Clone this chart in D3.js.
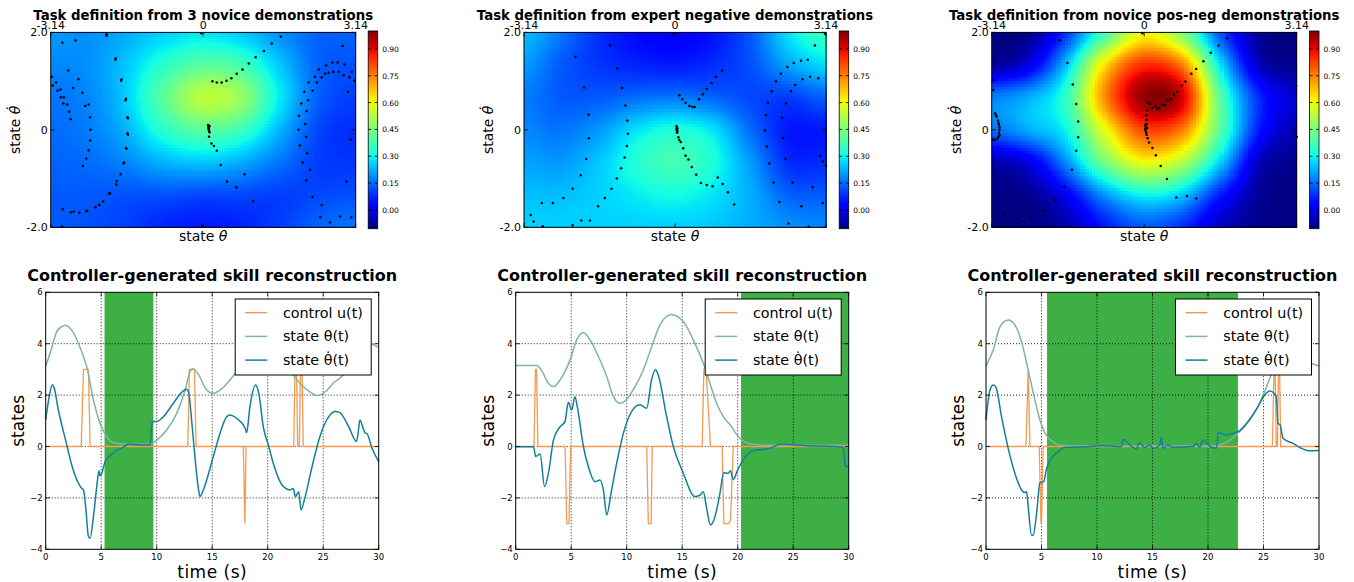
<!DOCTYPE html>
<meta charset="utf-8">
<style>
body { margin: 0; background: #fff; }
svg { font-family: "DejaVu Sans", sans-serif; }
.title { font-weight: bold; text-anchor: middle; }
.grid line { stroke: #000; stroke-dasharray: 1,2; stroke-width: 0.9; }
.frame { fill: none; stroke: #000; stroke-width: 1; }
.tick { stroke: #000; stroke-width: 0.8; }
</style>
<svg width="1354" height="582"></svg>

<script src="https://d3js.org/d3.v7.min.js"></script>
<script>

// ---- data ----
var thetaCols = [-3.14, -2.355, -1.57, -0.785, 0, 0.785, 1.57, 2.355, 3.14];
var dthetaRows = [2, 1.333, 0.667, 0, -0.667, -1.333, -2];

// cost maps (rows top to bottom)
var fieldNovice = [
  [0.20,0.19,0.22,0.26,0.28,0.25,0.19,0.14,0.14],
  [0.18,0.19,0.25,0.34,0.40,0.37,0.25,0.14,0.12],
  [0.16,0.18,0.26,0.41,0.53,0.48,0.29,0.14,0.10],
  [0.15,0.17,0.23,0.34,0.40,0.36,0.23,0.11,0.08],
  [0.14,0.15,0.18,0.23,0.25,0.22,0.16,0.10,0.09],
  [0.13,0.13,0.12,0.12,0.11,0.11,0.10,0.11,0.12],
  [0.13,0.12,0.10,0.07,0.06,0.07,0.10,0.14,0.16]
];
var fieldExpertNeg = [
  [0.24,0.16,0.08,0.04,0.03,0.05,0.13,0.28,0.36],
  [0.20,0.13,0.09,0.07,0.06,0.08,0.12,0.21,0.27],
  [0.17,0.13,0.13,0.15,0.16,0.14,0.11,0.10,0.14],
  [0.18,0.16,0.20,0.28,0.32,0.28,0.15,0.06,0.06],
  [0.21,0.20,0.25,0.33,0.37,0.32,0.20,0.08,0.08],
  [0.24,0.24,0.26,0.29,0.31,0.28,0.22,0.14,0.13],
  [0.26,0.26,0.26,0.26,0.26,0.25,0.22,0.19,0.18]
];
var fieldPosNeg = [
  [-0.10,-0.09,0.10,0.38,0.60,0.45,0.12,-0.08,-0.10],
  [-0.08,0.00,0.26,0.65,0.85,0.75,0.28,-0.04,-0.09],
  [0.17,0.22,0.36,0.75,0.98,0.92,0.40,0.08,-0.03],
  [0.15,0.22,0.31,0.60,0.82,0.75,0.40,0.06,-0.06],
  [-0.06,0.00,0.20,0.45,0.60,0.52,0.26,-0.04,-0.09],
  [-0.10,-0.09,0.02,0.20,0.30,0.25,0.06,-0.08,-0.10],
  [-0.10,-0.10,-0.06,0.06,0.13,0.08,-0.04,-0.09,-0.10]
];

var dotsNovice = [
  [-3.12,1.09],[-3.10,0.91],[-3.03,0.97],[-3.00,0.80],[-2.94,0.83],[-2.93,0.67],[-2.87,0.67],[-2.88,0.54],[-2.80,0.52],[-2.76,0.37],[-2.73,0.22],
  [-2.90,1.79],[-2.63,1.84],[-2.78,1.22],[-2.68,0.86],[-2.57,1.04],[-2.49,0.76],[-2.43,0.49],[-2.36,0.52],[-2.33,0.26],[-2.32,0.00],[-2.33,-0.22],[-2.36,-0.42],[-2.41,-0.59],[-2.48,-0.74],
  [-1.99,1.96],[-1.99,1.93],[-1.80,1.47],[-1.81,1.44],[-1.69,1.01],[-1.68,1.04],[-1.60,0.61],[-1.59,0.64],[-1.56,0.26],[-1.55,0.24],[-1.55,-0.10],[-1.56,-0.07],[-1.58,-0.39],[-1.59,-0.37],[-1.63,-0.67],[-1.64,-0.69],[-1.70,-0.91],[-1.78,-1.05],[-1.79,-1.12],[-1.92,-1.30],[-1.94,-1.31],[-2.06,-1.47],[-2.14,-1.54],[-2.22,-1.59],[-2.39,-1.66],[-2.41,-1.67],[-2.55,-1.70],[-2.67,-1.68],[-2.73,-1.69],[-2.89,-1.63],[-2.91,-1.99],
  [0.10,0.10],[0.11,0.07],[0.12,0.04],[0.11,0.01],[0.12,-0.02],[0.13,-0.05],[0.11,0.05],[0.13,0.08],[0.12,-0.14],[0.17,-0.28],[0.22,-0.33],[0.28,-0.43],[0.36,-0.72],[0.49,-1.06],[0.68,-1.18],[0.85,-0.91],[1.03,-1.47],
  [0.19,1.00],[0.28,0.97],[0.38,0.97],[0.48,1.01],[0.58,1.06],[0.69,1.15],[0.81,1.24],[0.94,1.36],[1.08,1.49],[1.25,1.62],[1.41,1.77],[1.60,1.91],[-0.04,1.98],[-0.02,-1.97],
  [1.96,0.00],[1.97,0.29],[1.99,-0.32],[2.02,0.54],[2.05,-0.67],[2.08,0.78],[2.10,0.12],[2.12,-0.14],[2.12,-1.04],[2.13,0.38],[2.14,-0.48],[2.16,0.61],[2.17,0.97],[2.20,-0.82],[2.25,0.80],[2.25,-1.38],[2.30,1.09],[2.34,0.97],[2.38,1.24],[2.44,1.08],[2.41,-1.79],[2.44,-1.54],[2.51,1.15],[2.53,1.32],[2.58,1.17],[2.66,1.38],[2.68,1.19],[2.77,1.38],[2.79,1.19],[2.82,-1.78],[2.87,1.72],[2.89,1.12],[2.91,1.34],[2.95,-1.06],[2.98,0.78],[3.01,1.08],[3.03,-0.20],[3.05,-1.80],[3.06,1.19],[3.11,1.01],[2.61,-1.90]
];
var dotsExpertNeg = [
  [-3.00,-1.75],[-2.94,-1.88],[-2.75,-1.98],[-2.77,-1.50],[-2.54,-1.50],[-2.32,-1.40],[-2.13,-1.21],[-2.13,-1.96],[-2.07,1.50],[-1.96,-0.93],[-1.95,-1.86],[-1.89,0.87],[-1.85,-0.60],[-1.80,0.31],[-1.79,-0.17],[-1.77,-1.86],[-1.60,-1.57],[-1.46,-1.40],[-1.35,1.73],[-1.32,-1.21],[-1.20,1.26],[-1.21,-1.00],[-1.12,-0.79],[-1.10,0.86],[-1.05,-0.57],[-1.03,0.50],[-1.00,-0.33],[-0.99,0.19],[-0.98,-0.08],
  [0.03,0.08],[0.04,0.05],[0.03,0.02],[0.04,-0.01],[0.05,-0.04],[0.04,-0.06],[0.05,0.03],[0.07,-0.15],[0.09,-0.21],[0.12,-0.25],[0.17,-0.38],[0.22,-0.53],[0.28,-0.61],[0.35,-0.76],[0.44,-0.92],[0.54,-1.09],[0.66,-1.13],[0.78,-1.16],[0.89,-0.98],[0.99,-1.11],[1.10,-1.28],[1.23,-1.53],
  [0.09,0.71],[0.15,0.63],[0.22,0.55],[0.30,0.49],[0.36,0.47],[0.41,0.47],[0.50,0.63],[0.58,0.73],[0.66,0.84],[0.76,0.96],[0.85,1.09],[0.98,1.22],[-0.03,1.98],
  [1.87,-0.01],[1.89,0.30],[1.91,-0.34],[1.93,0.56],[1.96,-0.69],[2.01,0.79],[2.05,-1.08],[2.10,0.99],[2.17,-1.48],[2.20,1.15],[2.23,0.25],[2.25,-0.17],[2.30,-0.60],[2.31,0.54],[2.34,1.29],[2.36,-1.92],[2.41,0.79],[2.44,-1.08],[2.47,1.37],[2.50,0.92],[2.62,1.42],[2.65,1.04],[2.63,-1.57],[2.76,1.44],[2.81,1.09],[2.78,-1.99],[2.86,-1.18],[2.91,1.73],[2.98,1.06],[3.02,-0.53],[3.07,-0.65],[3.07,-1.50],[3.12,1.97],[3.14,-0.73]
];
var dotsPosNeg = [
  [-3.07,0.34],[-3.04,0.27],[-3.01,0.19],[-2.99,0.10],[-2.98,0.00],[-2.98,-0.11],[-3.02,-0.17],[-3.07,-0.21],[-3.12,-0.20],[-3.05,0.30],[-3.00,0.14],[-2.98,0.05],[-2.99,-0.06],[-3.00,-0.14],[-3.10,-0.21],
  [-3.12,1.02],[-3.11,0.82],[-2.91,1.79],[-2.89,-1.74],[-2.61,-1.82],[-2.34,-1.80],[-2.07,-1.66],[-1.84,-1.45],[-1.64,-1.17],[-1.49,-0.82],[-1.40,-0.43],[-1.36,-0.15],[-1.36,0.17],[-1.40,0.53],[-1.47,0.93],[-1.58,1.37],[-1.74,1.84],
  [0.02,0.10],[0.03,0.06],[0.02,0.02],[0.03,-0.02],[0.04,-0.06],[0.05,-0.10],[0.06,0.04],[0.05,0.12],[0.05,0.20],[0.04,0.30],[0.06,0.39],[0.07,0.56],[0.12,0.53],[0.17,0.45],[0.24,0.48],[0.27,0.43],[0.31,0.45],[0.37,0.51],[0.43,0.51],[0.48,0.60],[0.55,0.63],[0.61,0.72],[0.68,0.78],[0.77,0.91],[0.85,0.99],[0.97,1.15],[1.07,1.25],[1.22,1.41],[1.37,1.58],[1.53,1.73],[1.71,1.88],
  [0.07,-0.17],[0.10,-0.26],[0.17,-0.37],[0.24,-0.52],[0.34,-0.74],[0.47,-1.01],[0.66,-1.39],[0.88,-1.36],[1.07,-1.41],
  [3.13,0.90],[3.14,-0.14],[-0.04,1.98]
];

var cbTicks = [0, 0.15, 0.30, 0.45, 0.60, 0.75, 0.90];
var cbRange = [-0.105, 1.0];
var thetaTicks = [-3.14, 0, 3.14], thetaTickLabels = ["-3.14", "0", "3.14"];
var dthetaTicks = [2, 0, -2], dthetaTickLabels = ["2.0", "0", "-2.0"];

var timeTicks = [0, 5, 10, 15, 20, 25, 30];
var stateTicks = [-4, -2, 0, 2, 4, 6];

// skill reconstructions [t, value]
var uA = [[0,0],[3.2,0],[3.4,3],[3.85,3],[4.0,0],[12.8,0],[12.95,3],[13.4,3],[13.55,0],[17.8,0],[17.95,-3],[18.05,0],[22.35,0],[22.45,3],[22.6,3],[22.7,0],[22.85,0],[22.95,3],[23.1,3],[23.2,0],[30,0]];
var thA = [[0,3.13],[0.4,3.63],[1.0,4.47],[1.44,4.66],[1.74,4.72],[2.34,4.53],[2.94,4.02],[3.4,3.5],[3.7,3.1],[4.3,1.81],[4.9,0.9],[5.5,0.38],[6.1,0.15],[7.3,0.1],[9.4,0.1],[10.0,0.25],[10.9,0.64],[11.8,1.29],[12.56,2.2],[13.0,2.91],[13.25,3.03],[13.8,2.78],[14.4,2.26],[15.1,2.07],[15.9,2.26],[16.6,2.59],[17.1,2.85],[18,3.3],[19,3.7],[20,3.8],[21,3.5],[22.3,2.78],[22.9,2.46],[23.8,2.13],[24.4,1.98],[25.2,2.13],[25.9,2.46],[26.8,2.78],[27.5,3.3],[28.3,3.8],[29.3,3.98],[30,3.86]];
var dthA = [[0,1.03],[0.3,1.9],[0.6,2.4],[0.75,2.3],[1.14,1.42],[1.9,0.06],[2.3,-0.65],[2.95,-1.43],[3.25,-1.63],[3.4,-1.69],[3.6,-2.34],[3.85,-3.5],[4.0,-3.57],[4.3,-2.73],[4.6,-1.56],[4.8,-0.94],[4.9,-1.15],[5.05,-1.04],[5.35,-0.59],[5.65,-0.42],[6.25,-0.2],[7.0,-0.03],[7.45,0.1],[8.8,0.06],[9.4,0.06],[9.6,0.97],[10.0,0.97],[10.6,1.16],[11.5,1.68],[12.3,2.13],[12.7,2.23],[12.86,2.13],[13.2,0.77],[13.5,-0.65],[13.8,-1.76],[13.9,-1.95],[14.2,-1.69],[15.1,-0.39],[15.7,0.51],[16.3,1.16],[16.6,1.23],[17.2,1.1],[17.97,0.71],[18.1,0.54],[18.4,1.55],[18.9,2.39],[19.2,2.07],[19.6,0.77],[20.1,0],[20.5,-0.65],[21.4,-1.56],[22.0,-1.69],[22.3,-1.63],[22.5,-1.95],[22.8,-1.76],[23.0,-2.47],[23.3,-2.08],[24.0,-0.78],[24.7,0.38],[25.5,1.16],[26.1,1.36],[26.5,1.32],[27.3,0.77],[28.0,0.19],[28.2,0.71],[28.3,1.03],[28.6,0.71],[28.8,0.52],[28.9,0.52],[29.4,-0.07],[30,-0.59]];
var spanA = [5.3, 9.7];

var uB = [[0,0],[1.65,0],[1.78,3],[1.88,3],[2.0,0],[4.45,0],[4.6,-3],[4.8,-3],[4.95,0],[11.8,0],[11.95,-3],[12.2,-3],[12.3,0],[16.8,0],[16.95,3],[17.15,3],[17.55,0],[18.6,0],[18.75,-3],[19.2,-3],[19.35,-2.85],[19.6,0],[30,0]];
var thB = [[0,3.15],[1.9,3.15],[2.3,2.98],[2.94,2.46],[3.4,2.33],[4.0,2.59],[4.9,3.37],[5.5,4.15],[6.1,4.44],[6.7,4.15],[7.45,3.5],[8.2,2.72],[8.8,1.94],[9.4,1.68],[10.0,1.84],[10.75,2.33],[11.5,2.98],[12.2,3.82],[13.0,4.73],[14.0,5.14],[15.1,4.86],[16.0,4.15],[16.9,3.24],[17.5,2.46],[18.1,1.68],[18.7,1.16],[19.45,0.77],[20.0,0.41],[20.6,0.19],[21.4,0.09],[22.9,0.05],[30,0.05]];
var dthB = [[0,-0.01],[1.6,-0.01],[1.8,-0.39],[2.2,-0.29],[2.6,-1.56],[3.0,-0.91],[3.4,0.25],[4.0,0.77],[4.44,0.97],[4.74,1.72],[5.04,1.42],[5.34,1.94],[5.55,1.55],[6.1,0],[6.54,-0.78],[7.14,-1.37],[7.6,-1.3],[7.9,-1.69],[8.2,-2.66],[8.64,-1.69],[9.1,-0.65],[9.7,0.51],[10.44,1.36],[11.2,1.62],[11.8,1.49],[12.24,2.59],[12.6,3.0],[12.84,2.78],[13.6,1.16],[14.2,0],[15.1,-1.04],[16.14,-1.95],[16.6,-1.89],[16.9,-1.76],[17.2,-2.4],[17.55,-3.05],[17.95,-2.73],[18.4,-1.82],[18.75,-1.02],[19.14,-1.04],[19.35,-0.94],[19.6,-1.28],[20.0,-0.91],[20.5,-0.52],[21.4,-0.16],[22.9,-0.07],[23.9,0.09],[25.9,0.04],[29.5,-0.03],[29.7,-0.78],[30,-0.78]];
var spanB = [20.3, 30];

var uC = [[0,0],[3.6,0],[3.8,3],[3.96,0],[4.8,0],[4.95,-3],[5.0,-3],[5.15,0],[25.8,0],[25.95,3],[26.05,3],[26.15,0],[26.25,0],[26.35,3],[26.45,3],[26.55,0],[30,0]];
var thC = [[0,3.13],[0.66,3.76],[1.26,4.66],[2.0,4.92],[2.6,4.73],[3.2,4.08],[3.8,2.98],[4.4,1.81],[4.86,1.03],[5.3,0.54],[5.9,0.22],[6.66,0.06],[7.86,0.02],[20.5,0.02],[21.06,0.06],[21.96,0.25],[22.86,0.58],[23.76,1.03],[24.5,1.55],[25.1,2.13],[25.7,2.78],[26.4,3.2],[27.5,3.45],[28.5,3.4],[29.3,3.24],[30,3.13]];
var dthC = [[0,1.03],[0.36,2.2],[0.66,2.39],[0.9,2.3],[1.4,1.16],[2.0,-0.07],[2.6,-1.04],[3.2,-1.69],[3.5,-1.79],[3.66,-1.76],[3.8,-2.34],[4.1,-3.45],[4.26,-3.44],[4.56,-2.6],[4.86,-1.41],[5.2,-1.37],[5.46,-0.85],[5.9,-0.46],[6.5,-0.2],[7.1,-0.03],[9.4,0],[10.4,0.04],[12.2,0],[12.36,0.28],[12.96,0.06],[13.56,-0.1],[13.8,0.15],[14.3,-0.04],[14.76,0.06],[15.06,-0.07],[15.66,0.06],[15.78,0.36],[15.96,-0.07],[16.35,0.06],[16.86,-0.03],[18.66,0],[18.96,0.12],[19.26,-0.03],[19.56,0.25],[19.86,0.15],[20.3,-0.03],[20.76,-0.07],[20.94,0.54],[21.36,0.49],[21.66,0.45],[22.26,0.51],[22.86,0.62],[23.76,1.06],[24.5,1.55],[25.1,2.0],[25.56,2.16],[25.86,2.11],[26.16,1.94],[26.3,0.9],[26.5,0.84],[26.76,0.32],[27.66,0.12],[28.4,-0.07],[29.16,-0.17],[30,-0.16]];
var spanC = [5.5, 22.7];

var seriesNames = ["control u(t)", "state \u03b8(t)", "state \u03b8\u0307(t)"];
var seriesColors = ["#f39b52", "#7fb5a2", "#137f99"];

// ---- jet colormap ----
var jetR = d3.scaleLinear().domain([0, 0.35, 0.66, 0.89, 1]).range([0, 0, 1, 1, 0.5]).clamp(true),
    jetG = d3.scaleLinear().domain([0, 0.125, 0.375, 0.64, 0.91, 1]).range([0, 0, 1, 1, 0, 0]).clamp(true),
    jetB = d3.scaleLinear().domain([0, 0.11, 0.34, 0.65, 1]).range([0.5, 1, 1, 0, 0]).clamp(true);
var norm = d3.scaleLinear().domain(cbRange).range([0, 1]).clamp(true);
function jet(v) {
  var t = norm(v);
  return d3.rgb(255 * jetR(t), 255 * jetG(t), 255 * jetB(t)).toString();
}

function cubic(p0, p1, p2, p3, t) {
  return p1 + 0.5 * t * (p2 - p0 + t * (2 * p0 - 5 * p1 + 4 * p2 - p3 + t * (3 * (p1 - p2) + p3 - p0)));
}
function sampleGrid(g, fx, fy) {
  var nc = g[0].length, nr = g.length;
  var ix = Math.min(Math.floor(fx), nc - 2), iy = Math.min(Math.floor(fy), nr - 2);
  var cx = function(i) { return Math.max(0, Math.min(nc - 1, i)); },
      cy = function(i) { return Math.max(0, Math.min(nr - 1, i)); };
  var rows = [-1, 0, 1, 2].map(function(d) {
    var r = g[cy(iy + d)];
    return cubic(r[cx(ix - 1)], r[cx(ix)], r[cx(ix + 1)], r[cx(ix + 2)], fx - ix);
  });
  return cubic(rows[0], rows[1], rows[2], rows[3], fy - iy);
}

var svg = d3.select("svg");

// gradient for colorbars
var grad = svg.append("defs").append("linearGradient")
    .attr("id", "jetgrad").attr("x1", 0).attr("y1", 1).attr("x2", 0).attr("y2", 0);
d3.range(0, 1.0001, 0.02).forEach(function(t) {
  grad.append("stop").attr("offset", t).attr("stop-color", jet(cbRange[0] + t * (cbRange[1] - cbRange[0])));
});

function heatPanel(cfg) {
  var x = d3.scaleLinear().domain([-3.14, 3.14]).range([cfg.left, cfg.right]),
      y = d3.scaleLinear().domain([-2, 2]).range([cfg.bottom, cfg.top]);
  var gx = d3.scaleLinear().domain([thetaCols[0], thetaCols[thetaCols.length - 1]]).range([0, thetaCols.length - 1]),
      gy = d3.scaleLinear().domain([dthetaRows[0], dthetaRows[dthetaRows.length - 1]]).range([0, dthetaRows.length - 1]);
  var g = svg.append("g");
  var nx = 100, ny = 64, cells = [];
  var cw = (cfg.right - cfg.left) / nx, ch = (cfg.bottom - cfg.top) / ny;
  for (var j = 0; j < ny; j++) for (var i = 0; i < nx; i++) {
    var th = x.invert(cfg.left + (i + 0.5) * cw), dth = y.invert(cfg.top + (j + 0.5) * ch);
    cells.push({i: i, j: j, v: sampleGrid(cfg.field, gx(th), gy(dth))});
  }
  g.append("g").attr("shape-rendering", "crispEdges")
    .selectAll("rect").data(cells).enter().append("rect")
      .attr("x", function(d) { return cfg.left + d.i * cw; })
      .attr("y", function(d) { return cfg.top + d.j * ch; })
      .attr("width", cw + 0.6).attr("height", ch + 0.6)
      .attr("fill", function(d) { return jet(d.v); });

  g.selectAll("circle").data(cfg.dots).enter().append("circle")
      .attr("cx", function(d) { return x(d[0]); })
      .attr("cy", function(d) { return y(d[1]); })
      .attr("r", 1.25).attr("fill", "#000");

  g.append("rect").attr("class", "frame")
      .attr("x", cfg.left).attr("y", cfg.top)
      .attr("width", cfg.right - cfg.left).attr("height", cfg.bottom - cfg.top);

  // ticks
  thetaTicks.forEach(function(t, k) {
    g.append("line").attr("class", "tick").attr("x1", x(t)).attr("x2", x(t)).attr("y1", cfg.top).attr("y2", cfg.top + 4);
    g.append("line").attr("class", "tick").attr("x1", x(t)).attr("x2", x(t)).attr("y1", cfg.bottom).attr("y2", cfg.bottom - 4);
    g.append("text").attr("x", x(t)).attr("y", cfg.top - 3.5).attr("text-anchor", "middle")
      .attr("font-size", 11).text(thetaTickLabels[k]);
  });
  dthetaTicks.forEach(function(t, k) {
    g.append("line").attr("class", "tick").attr("x1", cfg.left).attr("x2", cfg.left + 4).attr("y1", y(t)).attr("y2", y(t));
    g.append("line").attr("class", "tick").attr("x1", cfg.right).attr("x2", cfg.right - 4).attr("y1", y(t)).attr("y2", y(t));
    g.append("text").attr("x", cfg.left - 3).attr("y", y(t) + 4).attr("text-anchor", "end")
      .attr("font-size", 11).text(dthetaTickLabels[k]);
  });

  g.append("text").attr("class", "title").attr("x", (cfg.left + cfg.right) / 2).attr("y", 19.5)
    .attr("font-size", 13.3).text(cfg.title);

  var xl = g.append("text").attr("x", (cfg.left + cfg.right) / 2).attr("y", 241)
    .attr("text-anchor", "middle").attr("font-size", 14);
  xl.append("tspan").text("state ");
  xl.append("tspan").attr("font-style", "italic").text("\u03b8");

  var yl = g.append("text").attr("transform", "translate(" + (cfg.left - 31) + "," + ((cfg.top + cfg.bottom) / 2) + ") rotate(-90)")
    .attr("text-anchor", "middle").attr("font-size", 14);
  yl.append("tspan").text("state ");
  yl.append("tspan").attr("font-style", "italic").text("\u03b8\u0307");

  // colorbar
  var cy = d3.scaleLinear().domain(cbRange).range([228.7, 31]);
  g.append("rect").attr("x", cfg.cb).attr("y", 31).attr("width", 9.5).attr("height", 197.7)
    .attr("fill", "url(#jetgrad)").attr("stroke", "#000").attr("stroke-width", 0.8);
  cbTicks.forEach(function(t) {
    g.append("line").attr("class", "tick").attr("x1", cfg.cb + 9.5).attr("x2", cfg.cb + 6.5).attr("y1", cy(t)).attr("y2", cy(t));
    g.append("line").attr("class", "tick").attr("x1", cfg.cb).attr("x2", cfg.cb + 3).attr("y1", cy(t)).attr("y2", cy(t));
    g.append("text").attr("x", cfg.cb + 14).attr("y", cy(t) + 3).attr("font-size", 7.5).text(d3.format(".2f")(t));
  });
}

function statePanel(cfg) {
  var x = d3.scaleLinear().domain([0, 30]).range([cfg.left, cfg.left + 333]),
      y = d3.scaleLinear().domain([-4, 6]).range([549.3, 292.3]);
  var g = svg.append("g");

  g.append("rect").attr("x", x(cfg.span[0])).attr("y", y(6))
    .attr("width", x(cfg.span[1]) - x(cfg.span[0])).attr("height", y(-4) - y(6))
    .attr("fill", "#3daf45");

  var grid = g.append("g").attr("class", "grid");
  timeTicks.slice(1, -1).forEach(function(t) {
    grid.append("line").attr("x1", x(t)).attr("x2", x(t)).attr("y1", y(6)).attr("y2", y(-4));
  });
  stateTicks.slice(1, -1).forEach(function(t) {
    grid.append("line").attr("x1", x(0)).attr("x2", x(30)).attr("y1", y(t)).attr("y2", y(t));
  });

  var lin = d3.line().x(function(d) { return x(d[0]); }).y(function(d) { return y(d[1]); });
  var smooth = d3.line().curve(d3.curveMonotoneX).x(function(d) { return x(d[0]); }).y(function(d) { return y(d[1]); });
  g.append("path").attr("d", lin(cfg.u)).attr("fill", "none").attr("stroke", seriesColors[0]).attr("stroke-width", 1.3);
  g.append("path").attr("d", smooth(cfg.th)).attr("fill", "none").attr("stroke", seriesColors[1]).attr("stroke-width", 1.5);
  g.append("path").attr("d", smooth(cfg.dth)).attr("fill", "none").attr("stroke", seriesColors[2]).attr("stroke-width", 1.5);

  g.append("rect").attr("class", "frame").attr("x", x(0)).attr("y", y(6))
    .attr("width", x(30) - x(0)).attr("height", y(-4) - y(6));

  timeTicks.forEach(function(t) {
    g.append("line").attr("class", "tick").attr("x1", x(t)).attr("x2", x(t)).attr("y1", y(-4)).attr("y2", y(-4) - 4);
    g.append("line").attr("class", "tick").attr("x1", x(t)).attr("x2", x(t)).attr("y1", y(6)).attr("y2", y(6) + 4);
    g.append("text").attr("x", x(t)).attr("y", y(-4) + 11).attr("text-anchor", "middle")
      .attr("font-size", 8.5).text(t);
  });
  stateTicks.forEach(function(t) {
    g.append("line").attr("class", "tick").attr("x1", x(0)).attr("x2", x(0) + 4).attr("y1", y(t)).attr("y2", y(t));
    g.append("line").attr("class", "tick").attr("x1", x(30)).attr("x2", x(30) - 4).attr("y1", y(t)).attr("y2", y(t));
    g.append("text").attr("x", x(0) - 3).attr("y", y(t) + 3).attr("text-anchor", "end")
      .attr("font-size", 8.5).text(t < 0 ? "\u2212" + (-t) : t);
  });

  g.append("text").attr("class", "title").attr("x", x(15)).attr("y", 280.5)
    .attr("font-size", 16).text("Controller-generated skill reconstruction");
  g.append("text").attr("x", x(15)).attr("y", 578).attr("text-anchor", "middle")
    .attr("font-size", 17).attr("letter-spacing", 0.5).text("time (s)");
  g.append("text").attr("transform", "translate(" + (cfg.left - 22) + "," + y(1) + ") rotate(-90)")
    .attr("text-anchor", "middle").attr("font-size", 17).text("states");

  // legend
  var lx = x(30) - 143.5, ly = 299;
  var lg = g.append("g").attr("transform", "translate(" + lx + "," + ly + ")");
  lg.append("rect").attr("width", 136).attr("height", 76).attr("fill", "#fff").attr("stroke", "#000").attr("stroke-width", 1);
  seriesNames.forEach(function(n, k) {
    var yy = 13.7 + k * 23.7;
    lg.append("line").attr("x1", 10).attr("x2", 32).attr("y1", yy).attr("y2", yy)
      .attr("stroke", seriesColors[k]).attr("stroke-width", 1.5);
    lg.append("text").attr("x", 47.7).attr("y", yy + 5).attr("font-size", 14.3).text(n);
  });
}

heatPanel({left: 50.7, right: 355.7, top: 32.4, bottom: 227.3, cb: 368.2, field: fieldNovice, dots: dotsNovice,
           title: "Task definition from 3 novice demonstrations"});
heatPanel({left: 524, right: 826, top: 32.4, bottom: 227.3, cb: 839.2, field: fieldExpertNeg, dots: dotsExpertNeg,
           title: "Task definition from expert negative demonstrations"});
heatPanel({left: 991.7, right: 1296.7, top: 32.4, bottom: 227.3, cb: 1309.5, field: fieldPosNeg, dots: dotsPosNeg,
           title: "Task definition from novice pos-neg demonstrations"});

statePanel({left: 45.7, span: spanA, u: uA, th: thA, dth: dthA});
statePanel({left: 515.7, span: spanB, u: uB, th: thB, dth: dthB});
statePanel({left: 986, span: spanC, u: uC, th: thC, dth: dthC});

</script>
